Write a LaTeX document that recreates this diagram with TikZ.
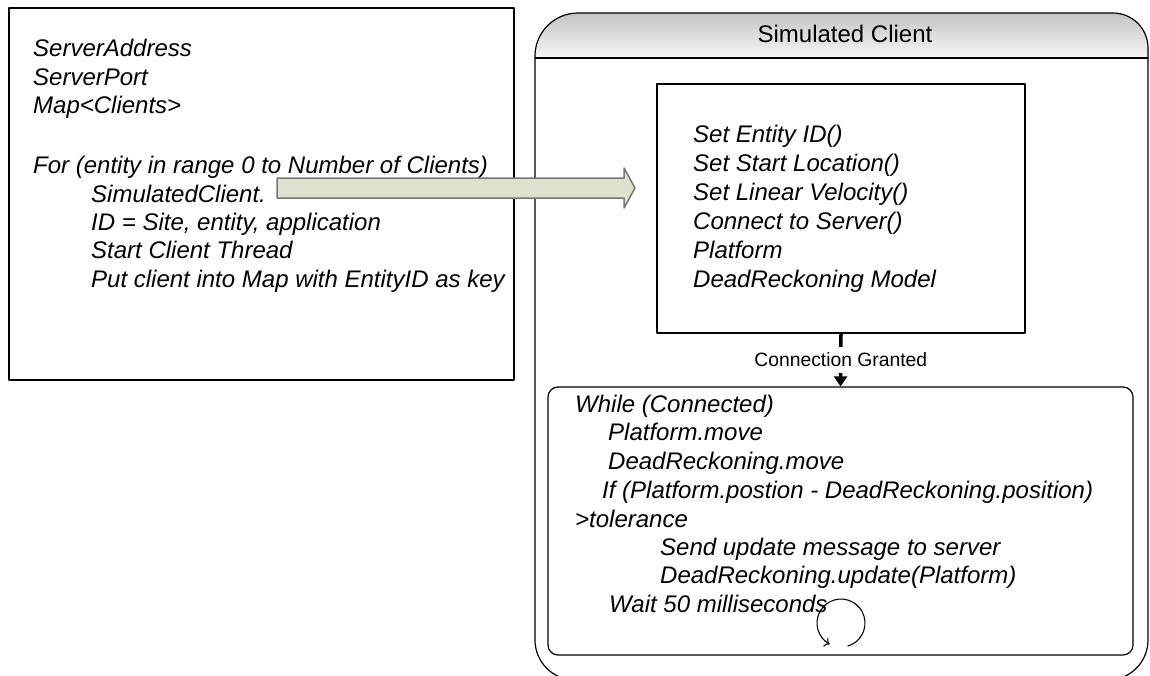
\documentclass[tikz,border=0pt]{standalone}
\usepackage{fontspec}
\setmainfont{Liberation Sans}
\usetikzlibrary{arrows.meta}
\definecolor{arrowfill}{RGB}{221,225,205}
\definecolor{arrowline}{RGB}{118,118,118}
\definecolor{hdrtop}{RGB}{196,196,196}
\definecolor{hdrbot}{RGB}{246,246,246}
\begin{document}
\begin{tikzpicture}[x=1pt,y=-1pt,line join=round,
  box/.style={draw,line width=1.2pt,inner sep=0pt},
  code/.style={anchor=base west,inner sep=0pt,font=\itshape\fontsize{24}{28}\selectfont},
  hdr/.style={anchor=base,inner sep=0pt,font=\fontsize{24}{28}\selectfont},
  lbl/.style={fill=white,inner xsep=1pt,inner ysep=6pt,font=\fontsize{19.3}{22}\selectfont},
  blockarrow/.style={fill=arrowfill,draw=arrowline,line width=1.5pt},
  conn/.style={line width=3.5pt,-{Triangle[length=10pt,width=13pt]}},
  loopar/.style={line width=1.1pt,-{To[length=5pt,width=10pt]}}]
\useasboundingbox (0,0) rectangle (1150,675);

% Simulated client container
\fill[top color=hdrtop,bottom color=hdrbot]
  (535,58) -- (535,56) arc[start angle=180,end angle=270,radius=43]
  -- (1113,13) arc[start angle=270,end angle=360,radius=35] -- (1148,58) -- cycle;
\draw[line width=1.2pt]
  (535,640) -- (535,56) arc[start angle=180,end angle=270,radius=43]
  -- (1113,13) arc[start angle=270,end angle=360,radius=35]
  -- (1148,640) arc[start angle=0,end angle=90,radius=40]
  -- (575,680) arc[start angle=90,end angle=180,radius=40] -- cycle;
\draw[line width=1.2pt] (535,58) -- (1148,58);
\node[hdr] (title) at (845,42) {Simulated Client};

% left setup box
\node[box,minimum width=505pt,minimum height=372pt] (setup) at (261.5,194) {};
\foreach \x/\y/\t [count=\i] in {
  33/56/{ServerAddress},
  33/85/{ServerPort},
  33/113/{Map<Clients>},
  33/173/{For (entity in range 0 to Number of Clients)},
  91/202/{SimulatedClient.},
  91/230/{ID = Site, entity, application},
  91/258/{Start Client Thread},
  91/287/{Put client into Map with EntityID as key}}
  \node[code] (s\i) at (\x,\y) {\t};

% entity box
\node[box,minimum width=368pt,minimum height=249pt] (entity) at (841,208.5) {};
\foreach \y/\t [count=\i] in {
  142/{Set Entity ID()},
  171/{Set Start Location()},
  200/{Set Linear Velocity()},
  229/{Connect to Server()},
  258/{Platform},
  287/{DeadReckoning Model}}
  \node[code] (e\i) at (693,\y) {\t};

% loop box
\node[box,rounded corners=10pt,minimum width=585pt,minimum height=268pt] (loop) at (840.5,521) {};
\foreach \x/\y/\t [count=\i] in {
  575/412/{While (Connected)},
  608/440/{Platform.move},
  608/469/{DeadReckoning.move},
  602/498/{If (Platform.postion - DeadReckoning.position)},
  575/527/{>tolerance},
  660/555/{Send update message to server},
  660/583/{DeadReckoning.update(Platform)},
  609/612/{Wait 50 milliseconds}}
  \node[code] (w\i) at (\x,\y) {\t};

% block arrow
\draw[blockarrow] (277,178) -- (624,178) -- (624,168) -- (635,188) -- (624,208)
  -- (624,198) -- (277,198) -- cycle;

% connection arrow
\draw[conn] (entity.south) -- node[lbl] (cg) {Connection Granted} (loop.north);

% loop arrow
\coordinate (lc) at (841,623);
\draw[loopar] (847.6,646.1) arc[start angle=74,end angle=-242,radius=24];
\end{tikzpicture}
\end{document}
